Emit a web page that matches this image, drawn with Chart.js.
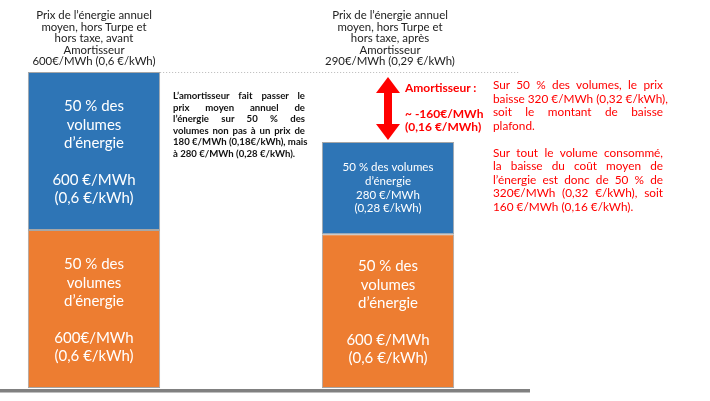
<!DOCTYPE html>
<html lang="fr">
<head>
<meta charset="utf-8">
<script src="https://cdn.jsdelivr.net/npm/chart.js@4"></script>
<style>
  body { margin: 0; background: #fff; }
  #wrap { position: relative; width: 710px; height: 401px; font-family: Lato, "Open Sans", sans-serif; }
  #wrap canvas { position: absolute; left: 0; top: 0; }
  .title { position: absolute; width: 170px; text-align: center; font-size: 11.4px; line-height: 11.6px; color: #222; }
  .just div { text-align: justify; text-align-last: justify; white-space: nowrap; }
  .just div.last { text-align-last: left; }
  #mid { position: absolute; left: 173px; top: 90px; width: 132px; font-size: 9.6px; font-weight: bold; line-height: 11.6px; color: #111; }
  #amort { position: absolute; left: 405px; top: 81px; font-size: 12px; font-weight: bold; line-height: 13px; color: #f00; }
  #side { position: absolute; left: 493px; top: 78px; width: 170px; font-size: 11.8px; line-height: 13.5px; color: #f00; }
</style>
</head>
<body>
<div id="wrap">
  <canvas id="chart" width="710" height="401"></canvas>
  <div class="title" style="left:9px; top:9px">Prix de l’énergie annuel<br>moyen, hors Turpe et<br>hors taxe, avant<br>Amortisseur<br>600€/MWh (0,6 €/kWh)</div>
  <div class="title" style="left:305px; top:9px">Prix de l’énergie annuel<br>moyen, hors Turpe et<br>hors taxe, après<br>Amortisseur<br>290€/MWh (0,29 €/kWh)</div>
  <div id="mid" class="just">
    <div>L’amortisseur fait passer le</div>
    <div>prix moyen annuel de</div>
    <div>l’énergie sur 50 % des</div>
    <div>volumes non pas à un prix de</div>
    <div>180 €/MWh (0,18€/kWh), mais</div>
    <div class="last">à 280 €/MWh (0,28 €/kWh).</div>
  </div>
  <div id="amort">Amortisseur :<br><br>~ -160€/MWh<br>(0,16 €/MWh)</div>
  <div id="side" class="just">
    <div>Sur 50 % des volumes, le prix</div>
    <div>baisse 320 €/MWh (0,32 €/kWh),</div>
    <div>soit le montant de baisse</div>
    <div class="last">plafond.</div>
    <div class="last">&nbsp;</div>
    <div>Sur tout le volume consommé,</div>
    <div>la baisse du coût moyen de</div>
    <div>l’énergie est donc de 50 % de</div>
    <div>320€/MWh (0,32 €/kWh), soit</div>
    <div class="last">160 €/MWh (0,16 €/kWh).</div>
  </div>
</div>
<script>
const categories = ['Avant Amortisseur', '', 'Après Amortisseur'];
const orangeValues = [300, null, 292];
const blueValues = [300, null, 175];
const orangeLabels = [
    ['50 % des', 'volumes', 'd’énergie', '', '600€/MWh', '(0,6 €/kWh)'],
    null,
    ['50 % des', 'volumes', 'd’énergie', '', '600 €/MWh', '(0,6 €/kWh)']
];
const blueLabels = [
    ['50 % des', 'volumes', 'd’énergie', '', '600 €/MWh', '(0,6 €/kWh)'],
    null,
    ['50 % des volumes', 'd’énergie', '280 €/MWh', '(0,28 €/kWh)']
];
const maxValue = 600;

// texte dans les barres
const barText = {
    id: 'barText',
    afterDatasetsDraw(chart) {
        const c = chart.ctx;
        const sets = [orangeLabels, blueLabels];
        c.save();
        c.fillStyle = '#fff';
        c.textAlign = 'center';
        c.textBaseline = 'middle';
        sets.forEach((labels, di) => {
            chart.getDatasetMeta(di).data.forEach((bar, i) => {
                const lines = labels[i];
                if (!lines) return;
                const small = lines.length < 5;
                const size = small ? 11.5 : 15;
                const lh = small ? 13.6 : 18.4;
                c.font = size + 'px Lato, "Open Sans", sans-serif';
                const mid = (bar.y + bar.base) / 2 + (small ? 0 : 1.5);
                const y0 = mid - (lines.length - 1) * lh / 2;
                lines.forEach((t, k) => c.fillText(t, bar.x, y0 + k * lh));
            });
        });
        c.restore();
    }
};

// ligne pointillée, flèche rouge et ligne de base
const extras = {
    id: 'extras',
    afterDraw(chart) {
        const c = chart.ctx;
        const y = chart.scales.y;
        const left = chart.getDatasetMeta(1).data[0];
        const right = chart.getDatasetMeta(1).data[2];
        const yTop = y.getPixelForValue(maxValue);
        c.save();
        c.strokeStyle = '#b8b8b8';
        c.lineWidth = 1;
        c.setLineDash([1, 2]);
        c.beginPath();
        c.moveTo(left.x + left.width / 2, yTop + 0.5);
        c.lineTo(519, yTop + 0.5);
        c.stroke();
        c.setLineDash([]);

        const ax = right.x, t = yTop + 5, b = right.y - 2;
        const hw = 12, hh = 16, sw = 4;
        c.fillStyle = '#ff0000';
        c.beginPath();
        c.moveTo(ax, t);
        c.lineTo(ax + hw, t + hh);
        c.lineTo(ax + sw, t + hh);
        c.lineTo(ax + sw, b - hh);
        c.lineTo(ax + hw, b - hh);
        c.lineTo(ax, b);
        c.lineTo(ax - hw, b - hh);
        c.lineTo(ax - sw, b - hh);
        c.lineTo(ax - sw, t + hh);
        c.lineTo(ax - hw, t + hh);
        c.closePath();
        c.fill();

        const base = y.getPixelForValue(0);
        c.fillStyle = '#808080';
        c.fillRect(0, base + 1, 530, 3.5);
        c.restore();
    }
};

new Chart(document.getElementById('chart'), {
    type: 'bar',
    data: {
        labels: categories,
        datasets: [
            { label: 'Orange', data: orangeValues, backgroundColor: '#ed7d31', borderColor: '#a6a6a6', borderWidth: 1, borderSkipped: false },
            { label: 'Bleu', data: blueValues, backgroundColor: '#2e75b6', borderColor: '#a6a6a6', borderWidth: 1, borderSkipped: false }
        ]
    },
    options: {
        responsive: false,
        animation: false,
        layout: { padding: { left: 20.5, right: 248.5, top: 72, bottom: 13 } },
        datasets: { bar: { barPercentage: 0.9, categoryPercentage: 1 } },
        plugins: { legend: { display: false }, tooltip: { enabled: false } },
        scales: {
            x: { stacked: true, display: false },
            y: { stacked: true, display: false, min: 0, max: maxValue }
        }
    },
    plugins: [barText, extras]
});
</script>
</body>
</html>
